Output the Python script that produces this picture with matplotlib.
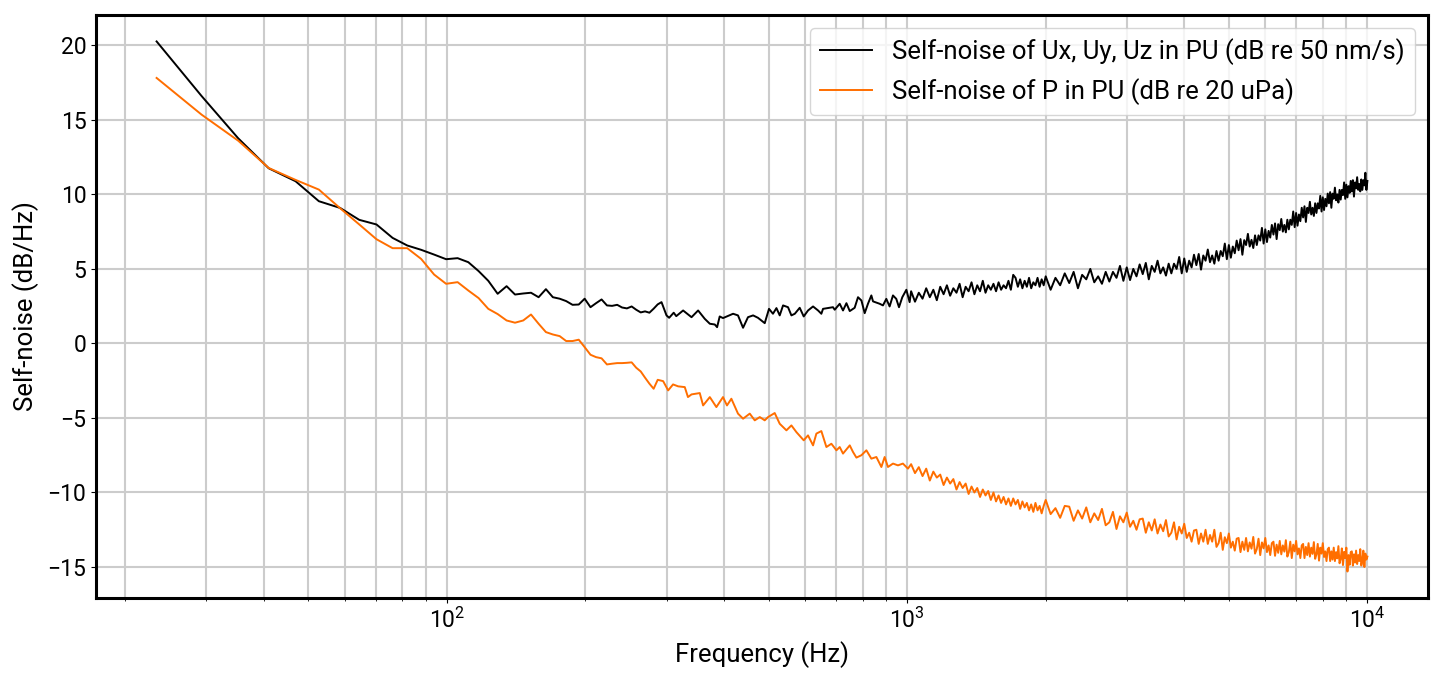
import matplotlib.pyplot as plt

# frequency bins (Hz) at the low end, shared by both curves
freq_lo = [23.4, 29.3, 35.2, 41.0, 46.9, 52.7, 58.6, 64.5, 70.3, 76.2,
           82.0, 87.9, 93.8, 99.6, 105.5, 111.3, 117.2, 123.0, 128.9, 134.8,
           140.6, 146.5, 152.3, 158.2, 164.1, 169.9, 175.8, 181.6, 187.5, 193.4,
           199.2, 205.1, 210.9, 216.8, 222.7, 228.5, 234.4, 240.2, 246.1, 252.0,
           257.8, 263.7, 269.5, 275.4, 281.3, 287.1]
u_lo = [20.26, 16.6, 13.76, 11.75, 10.88, 9.54, 9.09, 8.29, 7.98, 7.08,
        6.57, 6.28, 5.96, 5.65, 5.72, 5.45, 4.85, 4.2, 3.33, 3.84,
        3.28, 3.35, 3.40, 3.10, 3.64, 3.10, 3.00, 2.84, 2.59, 2.61,
        3.00, 2.43, 2.70, 2.95, 2.55, 2.52, 2.59, 2.41, 2.35, 2.48,
        2.26, 2.08, 2.15, 2.06, 2.33, 2.62]
p_lo = [17.81, 15.35, 13.6, 11.77, 10.97, 10.32, 9.07, 7.98, 6.99, 6.39,
        6.39, 5.67, 4.62, 4.0, 4.11, 3.55, 3.04, 2.32, 1.97, 1.54,
        1.39, 1.54, 1.94, 1.32, 0.76, 0.60, 0.49, 0.16, 0.16, 0.25,
        -0.25, -0.76, -0.92, -1.0, -1.41, -1.36, -1.32, -1.32, -1.30, -1.27,
        -1.63, -1.88, -2.30, -2.70, -3.04, -2.44]

# mid range, read separately for each curve
freq_u_mid = [292.6, 300, 304, 311, 315, 326, 340, 351.4, 363.3, 372.6,
              382, 386.4, 391.5, 398, 418.6, 429, 440, 451, 462.7, 474,
              490.4, 501, 511, 520, 528.6, 537.5, 551, 560.4, 570, 584.2,
              596, 609, 624.5, 640.4, 651, 656.5, 690, 696, 713.6, 725.5,
              738, 750.4, 769, 782, 795.5, 808.6, 822, 836, 843, 871.5,
              886, 901, 916, 931.5, 947, 960, 976, 996, 1012.5]
u_mid = [2.77, 1.88, 1.72, 2.06, 1.83, 2.21, 1.76, 2.21, 1.65, 1.32,
         1.27, 1.09, 1.81, 1.70, 1.99, 1.88, 1.05, 1.76, 1.88, 1.72,
         1.36, 2.32, 1.99, 2.37, 1.88, 2.55, 2.43, 1.88, 1.99, 2.39,
         1.81, 2.21, 2.48, 2.21, 1.99, 2.32, 2.43, 2.26, 2.66, 2.21,
         2.70, 2.17, 2.39, 3.10, 2.88, 2.03, 2.66, 3.22, 2.82, 2.66,
         2.55, 2.99, 2.48, 3.22, 2.99, 2.43, 3.10, 3.60, 2.77]

freq_p_mid = [295, 302.5, 310, 318, 328.7, 334, 340, 354.3, 360.3, 372.6,
              385, 398, 406, 415, 429, 440, 455, 466.5, 478.4, 490.4,
              498.7, 515.5, 528.6, 546.6, 560.4, 574.6, 596, 609, 624.5, 635,
              651, 667.6, 684.5, 702, 713.6, 725.5, 750.4, 762.6, 775.8, 795.5,
              815.5, 836, 857.3, 879, 893.5, 908.5, 931.5, 955, 979, 1004]
p_mid = [-2.53, -3.15, -2.75, -2.88, -2.93, -3.60, -3.42, -3.33, -4.16, -3.60,
         -4.27, -3.60, -4.16, -3.71, -4.71, -5.05, -4.71, -5.16, -4.94, -5.16,
         -4.94, -4.67, -5.39, -5.83, -5.50, -5.95, -6.50, -6.17, -6.84, -6.05,
         -5.88, -6.95, -6.73, -7.17, -6.95, -7.39, -6.84, -7.28, -7.66, -7.50,
         -7.17, -7.73, -7.62, -8.29, -7.62, -8.29, -8.06, -8.18, -8.06, -8.40]

# 1-2 kHz
freq_hi_a = [1020, 1040, 1060, 1080, 1100, 1120, 1140, 1160, 1180, 1200,
             1220, 1240, 1260, 1280, 1300, 1320, 1340, 1360, 1380, 1400,
             1420, 1440, 1460, 1480, 1500, 1520, 1540, 1560, 1580, 1600,
             1620, 1640, 1660, 1680, 1700, 1720, 1740, 1760, 1780, 1800,
             1820, 1840, 1860, 1880, 1900, 1920, 1940, 1960, 1980]
u_hi_a = [3.5, 2.8, 3.4, 3.0, 3.7, 3.1, 3.6, 2.9, 3.8, 3.3,
          3.9, 3.2, 3.7, 3.4, 4.0, 3.1, 3.8, 3.5, 4.1, 3.3,
          3.9, 3.5, 4.2, 3.4, 3.9, 3.6, 4.0, 3.5, 4.1, 3.6,
          3.9, 3.7, 4.2, 3.6, 4.6, 4.4, 3.8, 4.3, 3.7, 4.2,
          3.8, 4.4, 3.7, 4.1, 3.9, 4.4, 3.8, 4.3, 3.9]
p_hi_a = [-8.1, -8.7, -8.3, -8.9, -8.4, -9.2, -8.6, -9.0, -8.8, -9.5,
          -9.0, -9.4, -9.1, -9.8, -9.3, -9.7, -9.4, -10.1, -9.6, -10.0,
          -9.7, -10.3, -9.8, -10.2, -9.9, -10.5, -10.0, -10.6, -10.2, -10.7,
          -10.3, -10.8, -10.4, -10.9, -10.4, -10.8, -10.5, -11.1, -10.6, -11.0,
          -10.7, -11.2, -10.8, -11.3, -10.7, -11.2, -10.9, -11.4, -10.9]

# 2-10 kHz
freq_hi_b = [2000, 2050, 2100, 2150, 2200, 2250, 2300, 2350, 2400, 2450,
             2500, 2550, 2600, 2650, 2700, 2750, 2800, 2850, 2900, 2950,
             3000, 3050, 3100, 3150, 3200, 3250, 3300, 3350, 3400, 3450,
             3500, 3550, 3600, 3650, 3700, 3750, 3800, 3850, 3900, 3950,
             4000, 4050, 4100, 4150, 4200, 4250, 4300, 4350, 4400, 4450,
             4500, 4550, 4600, 4650, 4700, 4750, 4800, 4850, 4900, 4950,
             5000, 5050, 5100, 5150, 5200, 5250, 5300, 5350, 5400, 5450,
             5500, 5550, 5600, 5650, 5700, 5750, 5800, 5850, 5900, 5950,
             6000, 6050, 6100, 6150, 6200, 6250, 6300, 6350, 6400, 6450,
             6500, 6550, 6600, 6650, 6700, 6750, 6800, 6850, 6900, 6950,
             7000, 7050, 7100, 7150, 7200, 7250, 7300, 7350, 7400, 7450,
             7500, 7550, 7600, 7650, 7700, 7750, 7800, 7850, 7900, 7950,
             8000, 8050, 8100, 8150, 8200, 8250, 8300, 8350, 8400, 8450,
             8500, 8550, 8600, 8650, 8700, 8750, 8800, 8850, 8900, 8950,
             9000, 9050, 9100, 9150, 9200, 9250, 9300, 9350, 9400, 9450,
             9500, 9550, 9600, 9650, 9700, 9750, 9800, 9850, 9900, 9950,
             10000]
u_hi_b = [4.5, 3.6, 4.4, 3.9, 4.7, 4.05, 4.8, 3.7, 4.6, 4.3,
          5.0, 4.1, 4.5, 4.0, 4.8, 4.15, 4.8, 4.4, 5.2, 4.2,
          5.1, 4.25, 5.0, 4.5, 5.3, 4.65, 5.4, 4.3, 5.2, 4.8,
          5.55, 4.7, 5.1, 4.55, 5.35, 4.7, 5.35, 5.0, 5.8, 4.7,
          5.7, 4.8, 5.55, 5.1, 5.95, 5.25, 6.0, 4.95, 5.9, 5.55,
          6.3, 5.45, 5.9, 5.35, 6.2, 5.55, 6.2, 5.85, 6.7, 5.65,
          6.6, 5.75, 6.5, 6.05, 6.9, 6.25, 7.0, 5.95, 6.93, 6.6,
          7.35, 6.5, 6.95, 6.4, 7.25, 6.6, 7.25, 6.9, 7.75, 6.7,
          7.65, 6.8, 7.55, 7.1, 7.95, 7.3, 8.05, 7.0, 8.0, 7.6,
          8.35, 7.5, 7.95, 7.45, 8.3, 7.65, 8.3, 7.95, 8.85, 7.8,
          8.75, 7.9, 8.65, 8.2, 9.1, 8.45, 9.2, 8.15, 9.1, 8.75,
          9.5, 8.65, 9.1, 8.55, 9.4, 8.75, 9.4, 9.05, 9.9, 8.85,
          9.8, 8.95, 9.7, 9.2, 10.05, 9.4, 10.15, 9.1, 10.05, 9.7,
          10.45, 9.6, 10.0, 9.45, 10.3, 9.65, 10.3, 9.95, 10.8, 9.7,
          10.65, 9.8, 10.55, 10.1, 10.9, 10.2, 10.95, 9.85, 10.8, 10.4,
          11.15, 10.3, 10.7, 10.2, 11.0, 10.3, 10.95, 10.6, 11.45, 10.3,
          10.9]
p_hi_b = [-10.5, -11.45, -11.05, -11.7, -10.9, -10.95, -11.9, -11.2, -11.75, -11.0,
          -12.0, -11.4, -11.85, -11.1, -12.2, -12.0, -11.3, -12.45, -11.6, -12.0,
          -11.35, -12.3, -11.9, -12.5, -11.8, -11.75, -12.7, -12.0, -12.55, -11.8,
          -12.75, -12.15, -12.6, -11.85, -12.95, -12.7, -12.0, -13.15, -12.3, -12.75,
          -12.1, -13.05, -12.7, -13.3, -12.55, -12.5, -13.45, -12.75, -13.3, -12.5,
          -13.45, -12.85, -13.3, -12.5, -13.65, -13.4, -12.7, -13.85, -13.0, -13.4,
          -12.75, -13.7, -13.3, -13.9, -13.1, -13.05, -14.0, -13.3, -13.85, -13.05,
          -13.95, -13.35, -13.77, -12.98, -14.1, -13.8, -13.1, -14.2, -13.35, -13.75,
          -13.05, -14.0, -13.55, -14.2, -13.4, -13.3, -14.25, -13.5, -14.05, -13.25,
          -14.15, -13.55, -13.97, -13.2, -14.3, -14.0, -13.3, -14.4, -13.5, -13.95,
          -13.25, -14.15, -13.75, -14.4, -13.55, -13.45, -14.4, -13.65, -14.2, -13.4,
          -14.3, -13.7, -14.12, -13.33, -14.45, -14.15, -13.45, -14.57, -13.7, -14.1,
          -13.4, -14.33, -13.95, -14.6, -13.8, -13.7, -14.6, -13.95, -14.5, -13.7,
          -14.6, -14.0, -14.42, -13.6, -14.75, -14.45, -13.75, -14.87, -13.98, -14.4,
          -13.7, -15.3, -14.2, -14.85, -14.0, -13.95, -14.9, -14.15, -14.7, -13.9,
          -14.8, -14.2, -14.6, -13.8, -14.9, -14.6, -13.9, -15.0, -14.1, -14.5,
          -14.3]

freq_u = freq_lo + freq_u_mid + freq_hi_a + freq_hi_b
noise_u = u_lo + u_mid + u_hi_a + u_hi_b
freq_p = freq_lo + freq_p_mid + freq_hi_a + freq_hi_b
noise_p = p_lo + p_mid + p_hi_a + p_hi_b

plt.rcParams['font.family'] = ['Roboto', 'DejaVu Sans']
plt.rcParams['mathtext.fontset'] = 'custom'
plt.rcParams['mathtext.rm'] = 'Roboto'
plt.rcParams['mathtext.it'] = 'Roboto:italic'
plt.rcParams['font.size'] = 16

fig, ax = plt.subplots(figsize=(14.38, 6.78), dpi=100)
fig.subplots_adjust(left=0.0668, right=0.993, top=0.978, bottom=0.118)

ax.semilogx(freq_u, noise_u, color='black', lw=1.4,
            label='Self-noise of Ux, Uy, Uz in PU (dB re 50 nm/s)')
ax.semilogx(freq_p, noise_p, color='#ff6e00', lw=1.4,
            label='Self-noise of P in PU (dB re 20 uPa)')

ax.grid(True, which='both', color='#cccccc', lw=1.5)
ax.set_axisbelow(True)
ax.set_yticks(range(-15, 21, 5))
ax.tick_params(axis='both', which='major', labelsize=16.5)
for s in ax.spines.values():
    s.set_linewidth(2.2)

ax.set_xlabel('Frequency (Hz)', fontsize=18.5, labelpad=6)
ax.set_ylabel('Self-noise (dB/Hz)', fontsize=18.5, labelpad=6)
ax.legend(loc='upper right', fontsize=18.5)

plt.savefig('out.png', dpi=100)
plt.close()
